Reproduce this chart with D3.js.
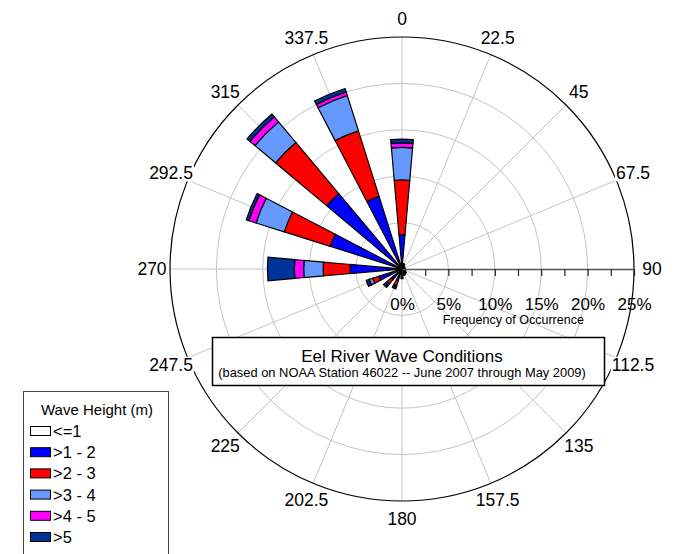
<!DOCTYPE html>
<html>
<head>
<meta charset="utf-8">
<script src="https://cdn.jsdelivr.net/npm/d3@7"></script>
<style>
  body { margin: 0; background: #fff; }
  svg { display: block; font-family: "Liberation Sans", Arial, sans-serif; }
</style>
</head>
<body>
<svg id="chart" width="675" height="554"></svg>
<script>
// directions (degrees clockwise from north)
const directions = [0, 22.5, 45, 67.5, 90, 112.5, 135, 157.5, 180, 202.5, 225, 247.5, 270, 292.5, 315, 337.5];
const dirLabels = ["0", "22.5", "45", "67.5", "90", "112.5", "135", "157.5", "180", "202.5", "225", "247.5", "270", "292.5", "315", "337.5"];

// frequency of occurrence (%) per wave height class, one value per direction
const le1   = [0.2, 0.2, 0.15, 0.15, 0.15, 0.2, 0.2, 0.2, 0.25, 0.3, 0.3, 0.3, 0.2, 0.2, 0.2, 0.2];
const h1to2 = [3.5, 0.2, 0.15, 0.1, 0.1, 0.15, 0.2, 0.25, 0.4, 1.0, 1.2, 2.3, 5.4, 7.9, 10.4, 8.0];
const h2to3 = [5.9, 0.1, 0.05, 0.05, 0.05, 0.05, 0.1, 0.15, 0.2, 0.6, 0.6, 0.7, 2.9, 5.2, 7.2, 7.4];
const h3to4 = [3.5, 0.05, 0.02, 0.02, 0.02, 0.02, 0.05, 0.05, 0.1, 0.1, 0.2, 0.4, 2.1, 3.2, 2.9, 4.0];
const h4to5 = [0.5, 0.02, 0, 0, 0, 0, 0.02, 0.02, 0.05, 0.05, 0.05, 0.05, 1.0, 0.8, 0.7, 0.4];
const gt5   = [0.4, 0.02, 0, 0, 0, 0, 0.02, 0.03, 0.05, 0.2, 0.25, 0.3, 2.9, 0.3, 0.4, 0.4];

const classNames = ["<=1", ">1 - 2", ">2 - 3", ">3 - 4", ">4 - 5", ">5"];
const classColors = ["#ffffff", "#0000ff", "#ff0000", "#6699ff", "#ff00ff", "#003399"];
const gridTicks = [5, 10, 15, 20];
const axisTicks = [0, 2.5, 5, 7.5, 10, 12.5, 15, 17.5, 20, 22.5, 25];
const maxPct = 25;

const keys = ["le1", "h1to2", "h2to3", "h3to4", "h4to5", "gt5"];
const rows = directions.map((d, i) => ({
  dir: d, le1: le1[i], h1to2: h1to2[i], h2to3: h2to3[i],
  h3to4: h3to4[i], h4to5: h4to5[i], gt5: gt5[i]
}));

const svg = d3.select("#chart");
const cx = 402, cy = 269, R = 232;
const r = d3.scaleLinear().domain([0, maxPct]).range([0, R]);
const rad = d => d * Math.PI / 180;

const g = svg.append("g").attr("transform", `translate(${cx},${cy})`);

// grid circles
g.selectAll("circle.grid").data(gridTicks).join("circle")
  .attr("class", "grid").attr("r", d => r(d))
  .attr("fill", "none").attr("stroke", "#c4c4c4").attr("stroke-width", 1);

// spokes
g.selectAll("line.spoke").data(directions.filter(d => d !== 90)).join("line")
  .attr("class", "spoke")
  .attr("x1", 0).attr("y1", 0)
  .attr("x2", d => R * Math.sin(rad(d)))
  .attr("y2", d => -R * Math.cos(rad(d)))
  .attr("stroke", "#c4c4c4").attr("stroke-width", 1);

// outer circle
g.append("circle").attr("r", R).attr("fill", "none")
  .attr("stroke", "#000").attr("stroke-width", 1.2);

// stacked wedges
const series = d3.stack().keys(keys)(rows);
const halfWidth = 5;
const arc = d3.arc()
  .innerRadius(d => r(d[0]))
  .outerRadius(d => r(d[1]))
  .startAngle(d => rad(d.data.dir - halfWidth))
  .endAngle(d => rad(d.data.dir + halfWidth));

g.selectAll("g.series").data(series).join("g")
  .attr("class", "series")
  .attr("fill", (s, i) => classColors[i])
  .selectAll("path").data(s => s.filter(d => d[1] > d[0])).join("path")
  .attr("d", arc)
  .attr("stroke", "#000").attr("stroke-width", 1.2)
  .attr("stroke-linejoin", "miter");

// frequency axis along 90 degrees
const axisG = g.append("g")
  .call(d3.axisBottom(r).tickValues(axisTicks).tickSize(7).tickSizeOuter(0).tickPadding(22)
    .tickFormat(d => d % 5 === 0 ? d + "%" : ""));
axisG.select(".domain").attr("stroke", "#555").attr("stroke-width", 1.5);
axisG.selectAll(".tick line").attr("stroke", "#222").attr("stroke-width", 1.2);
axisG.selectAll(".tick text").attr("font-size", 17).attr("fill", "#000")
  .attr("font-family", "Liberation Sans, Arial, sans-serif");

g.append("text").attr("x", r(12)).attr("y", 55)
  .attr("text-anchor", "middle").attr("font-size", 12.5)
  .text("Frequency of Occurrence");

// direction labels with white background
const labelR = 250;
const lab = g.selectAll("g.dirlab").data(directions).join("g").attr("class", "dirlab")
  .attr("transform", d => `translate(${labelR * Math.sin(rad(d))},${-labelR * Math.cos(rad(d))})`);
lab.append("text")
  .attr("text-anchor", "middle").attr("dy", "0.35em")
  .attr("font-size", 17.5)
  .text((d, i) => dirLabels[i]);
lab.each(function () {
  const t = d3.select(this).select("text");
  const b = t.node().getBBox();
  d3.select(this).insert("rect", "text")
    .attr("x", b.x - 1).attr("y", b.y + 2).attr("width", b.width + 2).attr("height", b.height - 4)
    .attr("fill", "#fff");
});

// title box
const tb = svg.append("g");
tb.append("rect").attr("x", 212.5).attr("y", 337.5).attr("width", 392).attr("height", 48)
  .attr("fill", "#fff").attr("stroke", "#000").attr("stroke-width", 1.5);
tb.append("text").attr("x", cx).attr("y", 362).attr("text-anchor", "middle")
  .attr("font-size", 17).text("Eel River Wave Conditions");
tb.append("text").attr("x", cx).attr("y", 377).attr("text-anchor", "middle")
  .attr("font-size", 12.9).text("(based on NOAA Station 46022 -- June 2007 through May 2009)");

// legend
const lg = svg.append("g");
lg.append("rect").attr("x", 23.5).attr("y", 391.5).attr("width", 145).attr("height", 175)
  .attr("fill", "#fff").attr("stroke", "#444").attr("stroke-width", 1);
lg.append("text").attr("x", 97).attr("y", 415).attr("text-anchor", "middle")
  .attr("font-size", 15).text("Wave Height (m)");
const item = lg.selectAll("g.item").data(classNames).join("g").attr("class", "item")
  .attr("transform", (d, i) => `translate(30,${431 + i * 21.2})`);
item.append("rect").attr("x", 0.5).attr("y", -4.5).attr("width", 20).attr("height", 9)
  .attr("fill", (d, i) => classColors[i]).attr("stroke", "#000").attr("stroke-width", 1);
item.append("text").attr("x", 23).attr("y", 0).attr("dy", "0.36em")
  .attr("font-size", 16.5).text(d => d);
</script>
</body>
</html>
